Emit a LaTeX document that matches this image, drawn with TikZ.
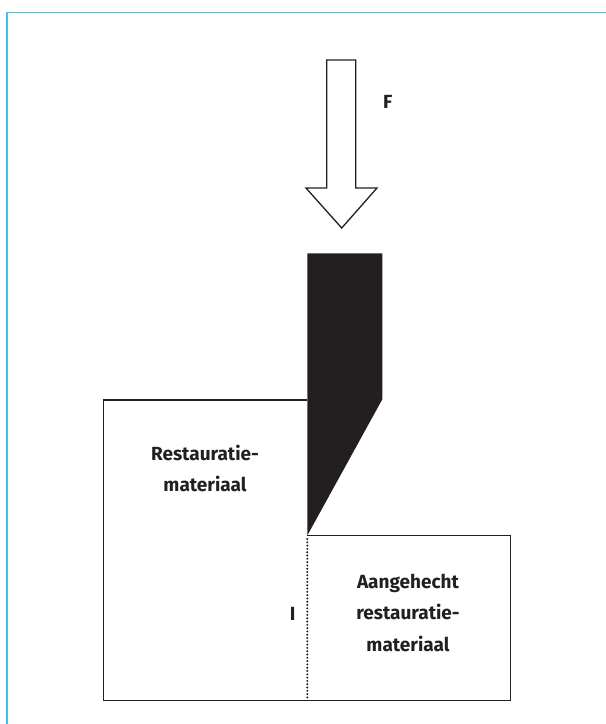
\documentclass[tikz,border=0pt]{standalone}
\usepackage{fontspec}
\setmainfont{Fira Sans}
\definecolor{ink}{HTML}{231F20}
\definecolor{frameblue}{HTML}{3CC3EA}
\tikzset{
  outline/.style={draw=ink, line width=1.3pt},
  label/.style={font=\fontsize{19}{31.5}\selectfont\bfseries, text=ink, align=center, inner sep=0pt},
  dots/.style={draw=ink, line width=2.2pt, line cap=round, dash pattern=on 0pt off 3.3pt}
}
\begin{document}
\begin{tikzpicture}[x=1pt,y=-1pt]
\useasboundingbox (0,0) rectangle (606,724);
\fill[white] (0,0) rectangle (606,724);
% blue frame
\draw[frameblue, line width=1.6pt] (7,724) -- (7,12.5) -- (606,12.5);
% force arrow
\draw[outline, line join=miter] (326.7,60) -- (355.7,60) -- (355.7,188) -- (377,188) -- (341.7,228) -- (306,188) -- (326.7,188) -- cycle;
\node[label, anchor=base west] (F) at (383,108) {F};
% blade
\fill[ink] (307.3,253.3) -- (382.3,253.3) -- (382.3,399.3) -- (307.3,535.5) -- cycle;
% boxes
\coordinate (LT) at (307.3,400);
\coordinate (RT) at (307.3,535.7);
\draw[outline] (LT) -- (103.3,400) -- (103.3,700.7) -- (510.7,700.7) -- (510.7,535.7) -- (RT);
\draw[dots] (307.3,539) -- (307.3,699);
% labels
\node[label, anchor=base] (rm) at (205,491.7) {Restauratie-\\materiaal};
\node[label, anchor=base] (arm) at (408,651) {Aangehecht\\restauratie-\\materiaal};
\node[label, anchor=base] (I) at (292.7,620) {I};
\end{tikzpicture}
\end{document}
